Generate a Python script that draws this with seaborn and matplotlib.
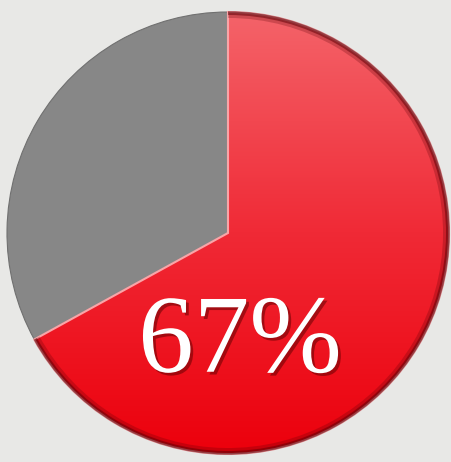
import numpy as np
import matplotlib.pyplot as plt
import matplotlib.patheffects as pe
from matplotlib.colors import LinearSegmentedColormap
from matplotlib.patches import Arc
import seaborn as sns

# data
labels = ["Yes", "No"]
shares = [67, 33]
label_text = "67%"

sns.set_theme(style="white")

fig = plt.figure(figsize=(4.52, 4.62), dpi=100)
fig.patch.set_facecolor("#e8e8e6")
ax = fig.add_axes([0, 0, 1, 1])
ax.set_facecolor("#e8e8e6")

cx, cy, r = 228, 229, 221
wedges, _ = ax.pie(shares, labels=None, startangle=90, counterclock=False,
                   center=(cx, cy), radius=r,
                   colors=["#f03a44", "#878787"],
                   wedgeprops=dict(linewidth=0))
ax.set_xlim(0, 452)
ax.set_ylim(0, 462)
ax.set_aspect("equal")
ax.axis("off")

# vertical gradient for the red slice
red_cmap = LinearSegmentedColormap.from_list("red", ["#ec000c", "#f02a36", "#f4646a"])
grad = np.linspace(0, 1, 256).reshape(-1, 1)
img = ax.imshow(grad, cmap=red_cmap, extent=[0, 452, 8, 452], origin="lower",
                aspect="auto", zorder=1)
img.set_clip_path(wedges[0])

# bevel: light inner edge, dark outer rim
wedges[0].set_zorder(2)
wedges[0].set_facecolor("none")
wedges[0].set_edgecolor("#f9a5a8")
wedges[0].set_linewidth(1.5)
wedges[1].set_edgecolor("#707070")
wedges[1].set_linewidth(0.8)

end_angle = 90 - 360 * shares[0] / sum(shares)
for lw, a in [(5, 0.25), (2.5, 0.5)]:
    ax.add_patch(Arc((cx, cy), 2 * r - lw, 2 * r - lw, theta1=end_angle, theta2=90,
                     color="#5a0006", linewidth=lw, alpha=a, zorder=2.5))

ax.text(240, 117, label_text, ha="center", va="center", color="white",
        fontsize=80, family="Liberation Serif", zorder=3,
        path_effects=[pe.withSimplePatchShadow(offset=(2, -2), shadow_rgbFace="#5a0000", alpha=0.5)])

fig.savefig("out.png", dpi=100, facecolor=fig.get_facecolor())
